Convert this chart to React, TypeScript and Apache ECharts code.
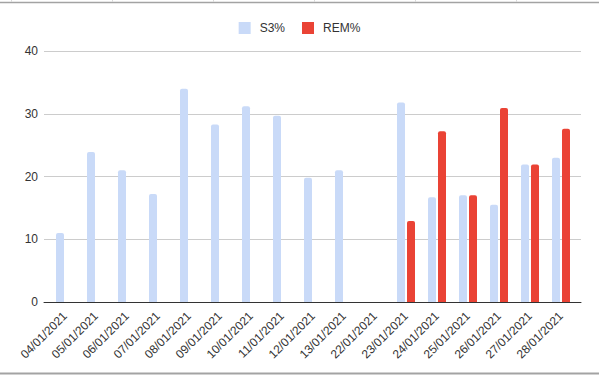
import React, { useEffect, useRef } from "react";
import * as echarts from "echarts";

const categories = [
  "04/01/2021", "05/01/2021", "06/01/2021", "07/01/2021", "08/01/2021",
  "09/01/2021", "10/01/2021", "11/01/2021", "12/01/2021", "13/01/2021",
  "22/01/2021", "23/01/2021", "24/01/2021", "25/01/2021", "26/01/2021",
  "27/01/2021", "28/01/2021",
];
const s3Values = [11, 23.9, 21, 17.2, 34, 28.3, 31.2, 29.7, 19.8, 21, null, 31.8, 16.7, 17, 15.5, 21.9, 23];
const remValues = [null, null, null, null, null, null, null, null, null, null, null, 12.9, 27.2, 17, 30.9, 21.9, 27.6];
const seriesNames = ["S3%", "REM%"];
const yMin = 0;
const yMax = 40;
const yStep = 10;

const FONT = "'Liberation Sans', Arial, sans-serif";

export default function App() {
  const ref = useRef<HTMLDivElement>(null);
  useEffect(() => {
    const chart = echarts.init(ref.current!, null, { renderer: "svg" });
    const frameCols = [11.5, 112.5, 213.5, 314.5, 415.5, 516.5];
    chart.setOption({
      animation: false,
      backgroundColor: "#ffffff",
      textStyle: { fontFamily: FONT },
      legend: {
        left: "center",
        top: 17,
        itemWidth: 12,
        itemHeight: 12,
        itemGap: 17,
        icon: "rect",
        textStyle: { fontSize: 12, color: "#333", fontFamily: FONT, padding: [0, 0, 0, 4] },
        data: seriesNames,
      },
      grid: [
        { left: 44, right: 18, top: 51, bottom: 73 },
        { left: 49.5, right: 22.5, top: 51, bottom: 73 },
      ],
      xAxis: [
        {
          gridIndex: 0,
          type: "category",
          data: categories,
          axisLine: { lineStyle: { color: "#333", width: 1 } },
          axisTick: { show: false },
          axisLabel: { show: false },
          splitLine: { show: false },
        },
        {
          gridIndex: 1,
          type: "category",
          data: categories,
          axisLine: { show: false },
          axisTick: { show: false },
          splitLine: { show: false },
          axisLabel: {
            interval: 0,
            rotate: 45,
            fontSize: 12,
            color: "#333",
            margin: 12,
            fontFamily: FONT,
          },
        },
      ],
      yAxis: [
        {
          gridIndex: 0,
          type: "value",
          min: yMin,
          max: yMax,
          interval: yStep,
          axisLine: { show: false },
          axisTick: { show: false },
          axisLabel: { fontSize: 12, color: "#333", margin: 6, fontFamily: FONT },
          splitLine: { lineStyle: { color: "#cccccc", width: 1 } },
        },
        {
          gridIndex: 1,
          type: "value",
          min: yMin,
          max: yMax,
          interval: yStep,
          show: false,
          splitLine: { show: false },
        },
      ],
      series: [
        {
          name: seriesNames[0],
          type: "bar",
          xAxisIndex: 1,
          yAxisIndex: 1,
          data: s3Values,
          barWidth: 8,
          barGap: "25%",
          itemStyle: { color: "#c9daf8", borderRadius: [2, 2, 0, 0] },
        },
        {
          name: seriesNames[1],
          type: "bar",
          xAxisIndex: 1,
          yAxisIndex: 1,
          data: remValues,
          barWidth: 8,
          barGap: "25%",
          itemStyle: { color: "#ea4335", borderRadius: [2, 2, 0, 0] },
        },
      ],
      graphic: [
        {
          type: "line",
          shape: { x1: 0, y1: 2.5, x2: 599, y2: 2.5 },
          style: { stroke: "#a3a3a3", lineWidth: 1.5 },
          silent: true,
        },
        {
          type: "line",
          shape: { x1: 0, y1: 373.5, x2: 599, y2: 373.5 },
          style: { stroke: "#a3a3a3", lineWidth: 2 },
          silent: true,
        },
        ...frameCols.map((x) => ({
          type: "line",
          shape: { x1: x, y1: 0, x2: x, y2: 1.8 },
          style: { stroke: "#d9d9d9", lineWidth: 1 },
          silent: true,
        })),
      ],
    });
    return () => chart.dispose();
  }, []);
  return (
    <div
      ref={ref}
      style={{ position: "absolute", left: 0, top: 0, width: 599, height: 375, background: "#fff" }}
    />
  );
}
